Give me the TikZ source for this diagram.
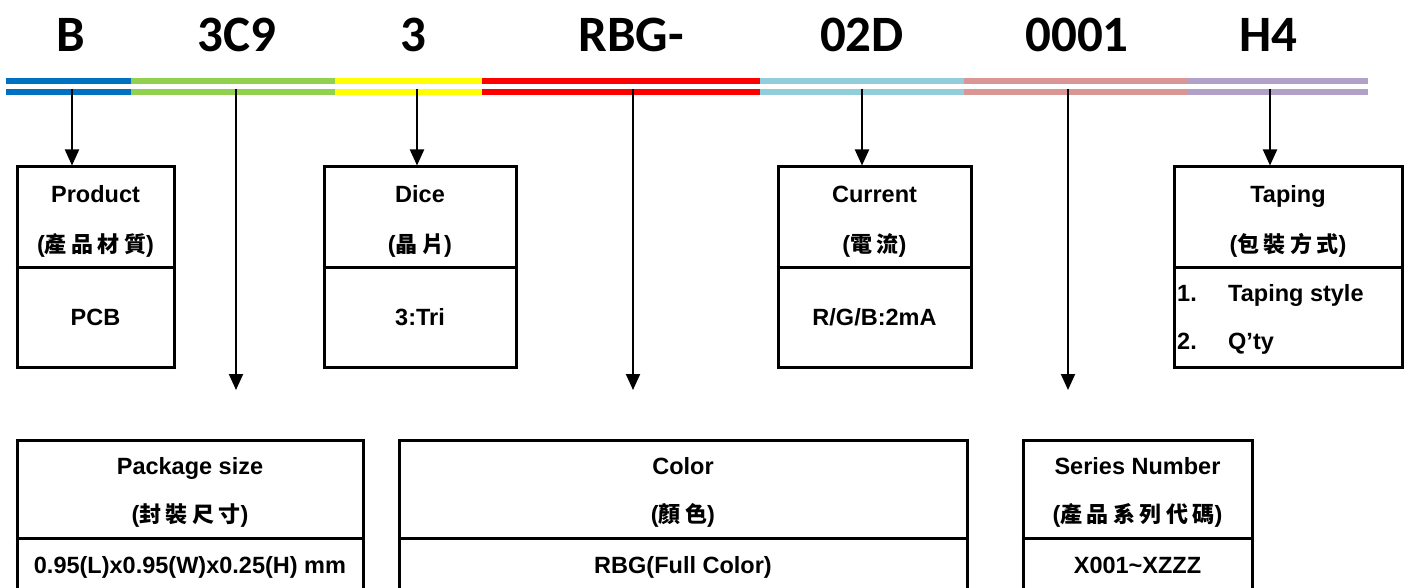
\documentclass[tikz,border=0pt]{standalone}
\usepackage{fontspec}
\setmainfont{Liberation Sans}
\newfontfamily\cjkf{Noto Sans CJK TC}[LetterSpace=20]
\newfontfamily\codef{Carlito}
\usetikzlibrary{arrows.meta}
\definecolor{cblue}{HTML}{0070C0}
\definecolor{cgreen}{HTML}{92D050}
\definecolor{cyellow}{HTML}{FFFF00}
\definecolor{cred}{HTML}{FF0000}
\definecolor{ccyan}{HTML}{92CDDC}
\definecolor{cpink}{HTML}{DA9694}
\definecolor{cpurple}{HTML}{B1A0C7}
\newcommand{\zh}[1]{{\cjkf\bfseries\fontsize{22}{26}\selectfont #1}}
\tikzset{
  boxs/.style={draw, line width=3pt, inner sep=0pt},
  divl/.style={line width=3pt},
  lbl/.style={font=\bfseries\fontsize{23.5}{27}\selectfont, inner sep=0pt, anchor=base},
  lbll/.style={lbl, anchor=base west},
  code/.style={font=\codef\bfseries\fontsize{51}{56}\selectfont, inner sep=0pt, anchor=base},
  arr/.style={line width=2pt, -{Triangle[width=14pt,length=16pt]}},
}
\begin{document}
\begin{tikzpicture}[x=1pt,y=-1pt]
\useasboundingbox (0,0) rectangle (1408,588);
\clip (0,0) rectangle (1408,588);
% code letters
\node[code] (tB) at (71,52) {B};
\node[code] (t3C9) at (237,52) {3C9};
\node[code] (t3) at (413,52) {3};
\node[code] (tRBG) at (631,52) {RBG-};
\node[code] (t02D) at (862,52) {02D};
\node[code] (t0001) at (1077,52) {0001};
\node[code] (tH4) at (1268,52) {H4};
% colour bars
\foreach \xa/\xb/\c in {6/131/cblue,131/335/cgreen,335/482/cyellow,482/760/cred,760/964/ccyan,964/1187/cpink,1187/1368/cpurple}{
  \fill[\c] (\xa,78) rectangle (\xb,84);
  \fill[\c] (\xa,89) rectangle (\xb,95);
}
% top boxes
\node[boxs, minimum width=157pt, minimum height=200pt] (prod) at (95.5,267) {};
\node[boxs, minimum width=192pt, minimum height=200pt] (dice) at (420,267) {};
\node[boxs, minimum width=193pt, minimum height=200pt] (curr) at (874.5,267) {};
\node[boxs, minimum width=228pt, minimum height=200pt] (tap) at (1288,267) {};
\foreach \b in {prod,dice,curr,tap}{\draw[divl] (\b.west) -- (\b.east);}
% bottom boxes
\node[boxs, minimum width=346pt, minimum height=196pt] (pkg) at (190,538) {};
\node[boxs, minimum width=568pt, minimum height=196pt] (col) at (683,538) {};
\node[boxs, minimum width=229pt, minimum height=196pt] (ser) at (1137.5,538) {};
\foreach \b in {pkg,col,ser}{\draw[divl] (\b.west) -- (\b.east);}
% texts top
\node[lbl] (prodT) at (95.5,203) {Product};
\node[lbl] (prodC) at (95.5,252) {(\zh{產品材質})};
\node[lbl] (prodV) at (95.5,325) {PCB};
\node[lbl] (diceT) at (420,203) {Dice};
\node[lbl] (diceC) at (420,252) {(\zh{晶片})};
\node[lbl] (diceV) at (420,325) {3:Tri};
\node[lbl] (currT) at (874.5,203) {Current};
\node[lbl] (currC) at (874.5,252) {(\zh{電流})};
\node[lbl] (currV) at (874.5,325) {R/G/B:2mA};
\node[lbl] (tapT) at (1288,203) {Taping};
\node[lbl] (tapC) at (1288,252) {(\zh{包裝方式})};
\node[lbll] (tapN1) at (1177,301) {1.};
\node[lbll] (tapV1) at (1228,301) {Taping style};
\node[lbll] (tapN2) at (1177,349) {2.};
\node[lbll] (tapV2) at (1228,349) {Q’ty};
% texts bottom
\node[lbl] (pkgT) at (190,474) {Package size};
\node[lbl] (pkgC) at (190,522) {(\zh{封裝尺寸})};
\node[lbl] (pkgV) at (190,573) {0.95(L)x0.95(W)x0.25(H) mm};
\node[lbl] (colT) at (683,474) {Color};
\node[lbl] (colC) at (683,522) {(\zh{顏色})};
\node[lbl] (colV) at (683,573) {RBG(Full Color)};
\node[lbl] (serT) at (1137.5,474) {Series Number};
\node[lbl] (serC) at (1137.5,522) {(\zh{產品系列代碼})};
\node[lbl] (serV) at (1137.5,573) {X001\textasciitilde XZZZ};
% arrows
\coordinate (a1) at (72,89);
\coordinate (a2) at (236,89);
\coordinate (a3) at (417,89);
\coordinate (a4) at (633,89);
\coordinate (a5) at (862,89);
\coordinate (a6) at (1068,89);
\coordinate (a7) at (1270,89);
\coordinate (e2) at (236,390);
\coordinate (e4) at (633,390);
\coordinate (e6) at (1068,390);
\draw[arr] (a1) -- (a1 |- prod.north);
\draw[arr] (a3) -- (a3 |- dice.north);
\draw[arr] (a5) -- (a5 |- curr.north);
\draw[arr] (a7) -- (a7 |- tap.north);
\draw[arr] (a2) -- (e2);
\draw[arr] (a4) -- (e4);
\draw[arr] (a6) -- (e6);
\end{tikzpicture}
\end{document}
